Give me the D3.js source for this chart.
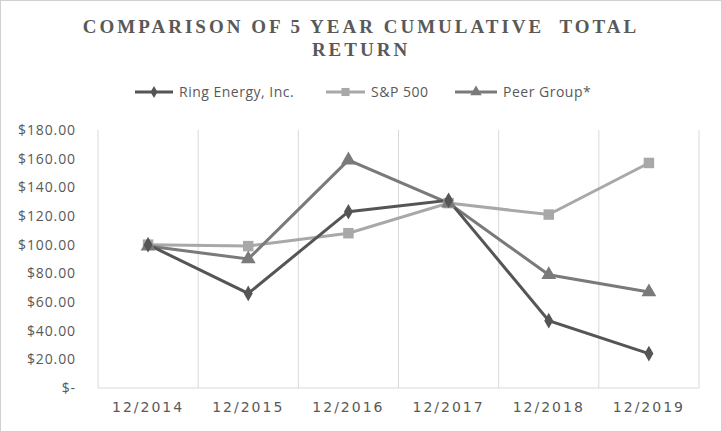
<!DOCTYPE html>
<html><head><meta charset="utf-8">
<script src="https://cdn.jsdelivr.net/npm/d3@7"></script>
<style>body{margin:0;background:#fff}svg{display:block}</style>
</head><body><svg id="c" width="722" height="432"></svg>
<script>
const categories = ["12/2014","12/2015","12/2016","12/2017","12/2018","12/2019"];
const ringEnergy = [100, 66, 123, 131, 47, 24];
const sp500 = [100, 99, 108, 129, 121, 157];
const peerGroup = [99, 90, 159, 129, 79, 67];
const yTicks = [0,20,40,60,80,100,120,140,160,180];
const seriesNames = ["Ring Energy, Inc.","S&P 500","Peer Group*"];

const series = [
  {name: seriesNames[0], values: ringEnergy, color: "#555555", shape: d3.symbolDiamond, size: 70},
  {name: seriesNames[1], values: sp500, color: "#a8a8a8", shape: d3.symbolSquare, size: 110},
  {name: seriesNames[2], values: peerGroup, color: "#7a7a7a", shape: d3.symbolTriangle, size: 95}
];

const svg = d3.select("#c");
svg.append("rect").attr("x",0.5).attr("y",0.5).attr("width",721).attr("height",431)
  .attr("fill","#fff").attr("stroke","#d0d0d0");

const m = {l:98, r:699, t:130, b:388};
const x = d3.scaleBand().domain(categories).range([m.l, m.r]);
const y = d3.scaleLinear().domain([0,180]).range([m.b, m.t]);

// title
const title = svg.append("text").attr("text-anchor","middle")
  .attr("font-family","'Liberation Serif', 'DejaVu Serif', serif").attr("font-weight","bold")
  .attr("font-size",19).attr("fill","#595959").attr("letter-spacing","3px")
  .style("white-space","pre");
title.append("tspan").attr("x",361).attr("y",33).text("COMPARISON OF 5 YEAR CUMULATIVE  TOTAL");
title.append("tspan").attr("x",361).attr("y",56).text("RETURN");

// vertical gridlines at category boundaries
const bounds = categories.map(c => x(c)).concat([m.r]);
svg.append("g").selectAll("line").data(bounds).join("line")
  .attr("x1",d=>d).attr("x2",d=>d).attr("y1",m.t).attr("y2",m.b)
  .attr("stroke","#d9d9d9").attr("stroke-width",1);
svg.append("line").attr("x1",m.l).attr("x2",m.r).attr("y1",m.b).attr("y2",m.b)
  .attr("stroke","#d9d9d9");

// y axis labels
const fmt = v => v === 0 ? "$-" : "$" + d3.format(".2f")(v);
const yAxis = d3.axisLeft(y).tickValues(yTicks).tickFormat(fmt).tickSize(0).tickPadding(22);
const ga = svg.append("g").attr("transform",`translate(${m.l},0)`).call(yAxis);
ga.select(".domain").remove();
ga.selectAll("text").attr("font-family","'Open Sans', 'Noto Sans', sans-serif").attr("font-size",14).attr("fill","#595959")
  .attr("letter-spacing","0.9px");

// x axis labels
const xAxis = d3.axisBottom(x).tickSize(0).tickPadding(14);
const gx = svg.append("g").attr("transform",`translate(0,${m.b})`).call(xAxis);
gx.select(".domain").remove();
gx.selectAll("text").attr("font-family","'DejaVu Sans', sans-serif").attr("font-size",14).attr("fill","#595959")
  .attr("letter-spacing","2px");

// lines
const line = d3.line().x((d,i)=>x(categories[i])+x.bandwidth()/2).y(d=>y(d));
const order = [1,2,0];
order.forEach(k => {
  const s = series[k];
  svg.append("path").datum(s.values).attr("d",line).attr("fill","none")
    .attr("stroke",s.color).attr("stroke-width",3);
});
order.forEach(k => {
  const s = series[k];
  svg.append("g").selectAll("path").data(s.values).join("path")
    .attr("d",d3.symbol().type(s.shape).size(s.size))
    .attr("transform",(d,i)=>`translate(${x(categories[i])+x.bandwidth()/2},${y(d)})`)
    .attr("fill",s.color);
});

// legend
const legX = [135, 326, 455];
const legW = [38, 39, 42];
const lg = svg.append("g");
series.forEach((s,i) => {
  const g = lg.append("g").attr("transform",`translate(${legX[i]},92)`);
  g.append("line").attr("x1",0).attr("x2",legW[i]).attr("stroke",s.color).attr("stroke-width",3);
  g.append("path").attr("d",d3.symbol().type(s.shape).size(s.size*0.6)).attr("transform",`translate(${legW[i]/2},0)`).attr("fill",s.color);
  g.append("text").attr("x",legW[i]+6).attr("y",5).text(s.name)
    .attr("font-family","'Open Sans', 'Noto Sans', sans-serif").attr("font-size",14).attr("fill","#595959")
    .attr("letter-spacing","0.5px");
});
</script></body></html>
